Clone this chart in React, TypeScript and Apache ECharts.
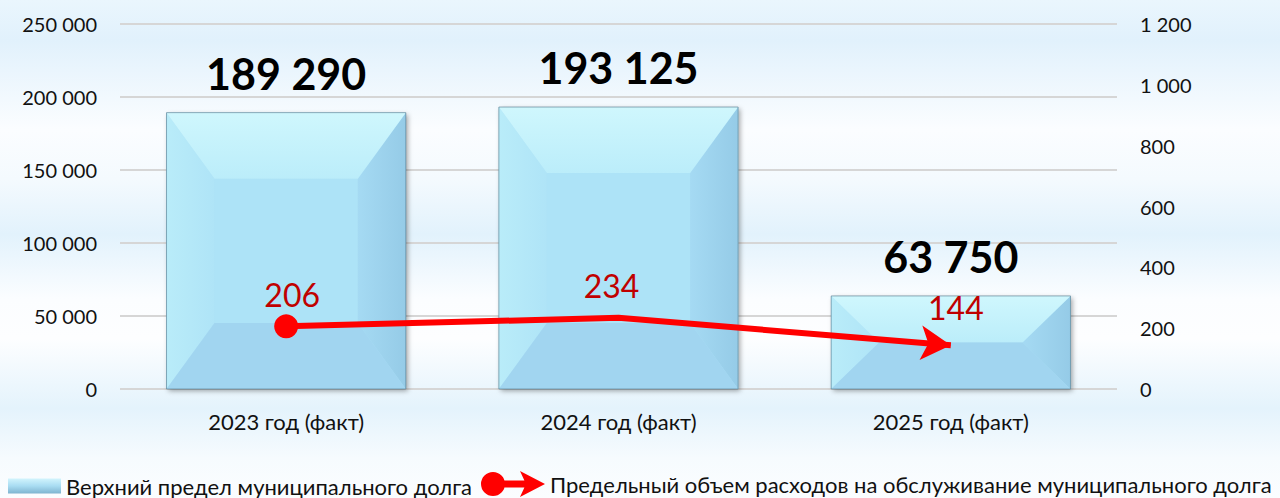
import React, { useEffect, useRef } from "react";
import * as echarts from "echarts";

const categories = ["2023 год (факт)", "2024 год (факт)", "2025 год (факт)"];
const debtLimit = [189290, 193125, 63750];
const servicingCost = [206, 234, 144];
const seriesNames = [
  "Верхний предел муниципального долга",
  "Предельный объем расходов на обслуживание муниципального долга",
];
const leftAxis = { min: 0, max: 250000, interval: 50000 };
const rightAxis = { min: 0, max: 1200, interval: 200 };

const fmt = (v: number) => String(v).replace(/\B(?=(\d{3})+(?!\d))/g, " ");
const FONT = "Lato, 'Open Sans', sans-serif";

const legendLineIcon =
  "path://M0 14 A12 12 0 1 1 24 14 A12 12 0 1 1 0 14 Z M20 10.5 H46 V17.5 H20 Z M39 1 L64 14 L39 27 L45 14 Z";

export default function App() {
  const ref = useRef<HTMLDivElement>(null);
  useEffect(() => {
    if (!ref.current) return;
    const chart = echarts.init(ref.current, null, { renderer: "svg" });

    const lineData = servicingCost.map((v, i) => {
      if (i === 0)
        return { value: v, symbol: "circle", symbolSize: 24, label: { distance: 4, offset: [6, 0] } };
      if (i === servicingCost.length - 1)
        return {
          value: v,
          symbol: "arrow",
          symbolSize: [26, 30],
          symbolRotate: -94.6,
          symbolOffset: [0, 0],
          label: { distance: 2, offset: [20, 0] },
        };
      return { value: v, symbol: "circle", symbolSize: 1, label: { distance: 16, offset: [-7, 0] } };
    });

    const option: any = {
      animation: false,
      backgroundColor: "transparent",
      textStyle: { fontFamily: FONT },
      grid: { left: 120, right: 163, top: 24, bottom: 109, containLabel: false },
      legend: [
        {
          data: [{ name: seriesNames[0], icon: "rect" }],
          left: 3,
          top: 470,
          itemWidth: 53,
          itemHeight: 15,
          textStyle: { fontSize: 22, color: "#111", fontFamily: FONT },
        },
        {
          data: [{ name: seriesNames[1], icon: legendLineIcon }],
          left: 476,
          top: 466,
          itemWidth: 64,
          itemHeight: 28,
          textStyle: { fontSize: 22, color: "#111", fontFamily: FONT },
        },
      ],
      xAxis: {
        type: "category",
        data: categories,
        axisLine: { show: false },
        axisTick: { show: false },
        axisLabel: { fontSize: 22, color: "#111", margin: 21, fontFamily: FONT },
      },
      yAxis: [
        {
          type: "value",
          ...leftAxis,
          axisLabel: { fontSize: 20, color: "#111", margin: 23, formatter: (v: number) => fmt(v), fontFamily: FONT },
          splitLine: { lineStyle: { color: "#d6d6d6", width: 2 } },
          axisLine: { show: false },
          axisTick: { show: false },
        },
        {
          type: "value",
          ...rightAxis,
          position: "right",
          axisLabel: { fontSize: 20, color: "#111", margin: 23, formatter: (v: number) => fmt(v), fontFamily: FONT },
          splitLine: { show: false },
          axisLine: { show: false },
          axisTick: { show: false },
        },
      ],
      series: [
        {
          name: seriesNames[0],
          type: "custom",
          z: 2,
          itemStyle: {
            color: new echarts.graphic.LinearGradient(0, 0, 0, 1, [
              { offset: 0, color: "#d2f4fd" },
              { offset: 0.5, color: "#a8dcf2" },
              { offset: 1, color: "#7fb4d0" },
            ]),
          },
          encode: { x: 0, y: 1 },
          data: debtLimit.map((v, i) => [i, v]),
          renderItem: (params: any, api: any) => {
            const idx = api.value(0);
            const val = api.value(1);
            const pTop = api.coord([idx, val]);
            const pBot = api.coord([idx, 0]);
            const bw = api.size([1, 0])[0] * 0.72;
            const cx = pTop[0];
            const x0 = cx - bw / 2;
            const x1 = cx + bw / 2;
            const y0 = pTop[1];
            const y1 = pBot[1];
            const h = y1 - y0;
            const dx = Math.min(48, bw / 2);
            const dy = Math.min(66, h / 2);
            const ix0 = x0 + dx;
            const ix1 = x1 - dx;
            const iy0 = y0 + dy;
            const iy1 = y1 - dy;
            return {
              type: "group",
              children: [
                {
                  type: "rect",
                  shape: { x: x0, y: y0, width: bw, height: h },
                  style: {
                    fill: "#a9def5",
                    shadowBlur: 5,
                    shadowOffsetX: 2,
                    shadowOffsetY: 2,
                    shadowColor: "rgba(0,0,0,0.35)",
                  },
                },
                {
                  type: "polygon",
                  shape: { points: [[ix0, iy0], [ix1, iy0], [ix1, iy1], [ix0, iy1]] },
                  style: { fill: "#ade3f7" },
                },
                {
                  type: "polygon",
                  shape: { points: [[x0, y0], [ix0, iy0], [ix0, iy1], [x0, y1]] },
                  style: {
                    fill: new echarts.graphic.LinearGradient(0, 0, 1, 0, [
                      { offset: 0, color: "#b9ecf9" },
                      { offset: 1, color: "#afe4f7" },
                    ]),
                  },
                },
                {
                  type: "polygon",
                  shape: { points: [[x1, y0], [ix1, iy0], [ix1, iy1], [x1, y1]] },
                  style: {
                    fill: new echarts.graphic.LinearGradient(0, 0, 1, 0, [
                      { offset: 0, color: "#a5daf3" },
                      { offset: 1, color: "#95cbe7" },
                    ]),
                  },
                },
                {
                  type: "polygon",
                  shape: { points: [[x0, y0], [x1, y0], [ix1, iy0], [ix0, iy0]] },
                  style: {
                    fill: new echarts.graphic.LinearGradient(0, 0, 0, 1, [
                      { offset: 0, color: "#cff7fd" },
                      { offset: 1, color: "#bbedfa" },
                    ]),
                  },
                },
                {
                  type: "polygon",
                  shape: { points: [[x0, y1], [x1, y1], [ix1, iy1], [ix0, iy1]] },
                  style: { fill: "#a1d5f0" },
                },
                {
                  type: "rect",
                  shape: { x: x0, y: y0, width: bw, height: h },
                  style: { fill: "none", stroke: "rgba(80,120,140,0.6)", lineWidth: 1 },
                },
                {
                  type: "text",
                  x: cx,
                  y: y0 - 18,
                  style: {
                    text: fmt(val),
                    fontSize: 43,
                    fontWeight: "bold",
                    fontFamily: FONT,
                    fill: "#000",
                    align: "center",
                    verticalAlign: "bottom",
                  },
                },
              ],
            };
          },
        },
        {
          name: seriesNames[1],
          type: "line",
          yAxisIndex: 1,
          z: 5,
          data: lineData,
          color: "#ff0000",
          lineStyle: { color: "#ff0000", width: 6 },
          itemStyle: { color: "#ff0000" },
          label: {
            show: true,
            position: "top",
            fontSize: 32,
            color: "#c00000",
            fontFamily: FONT,
          },
        },
      ],
    };
    chart.setOption(option);
    return () => chart.dispose();
  }, []);

  return (
    <div
      style={{
        position: "fixed",
        left: 0,
        top: 0,
        width: 1280,
        height: 498,
        background:
          "linear-gradient(180deg, #eaf6fd 0%, #e1f1fc 8%, #fbfdff 26%, #f4fafe 36%, #e2f2fc 47%, #fbfdff 60%, #fdfeff 68%, #e4f3fc 82%, #f6fbfe 92%, #fbfdff 100%)",
      }}
    >
      <div ref={ref} style={{ width: 1280, height: 498 }} />
    </div>
  );
}
